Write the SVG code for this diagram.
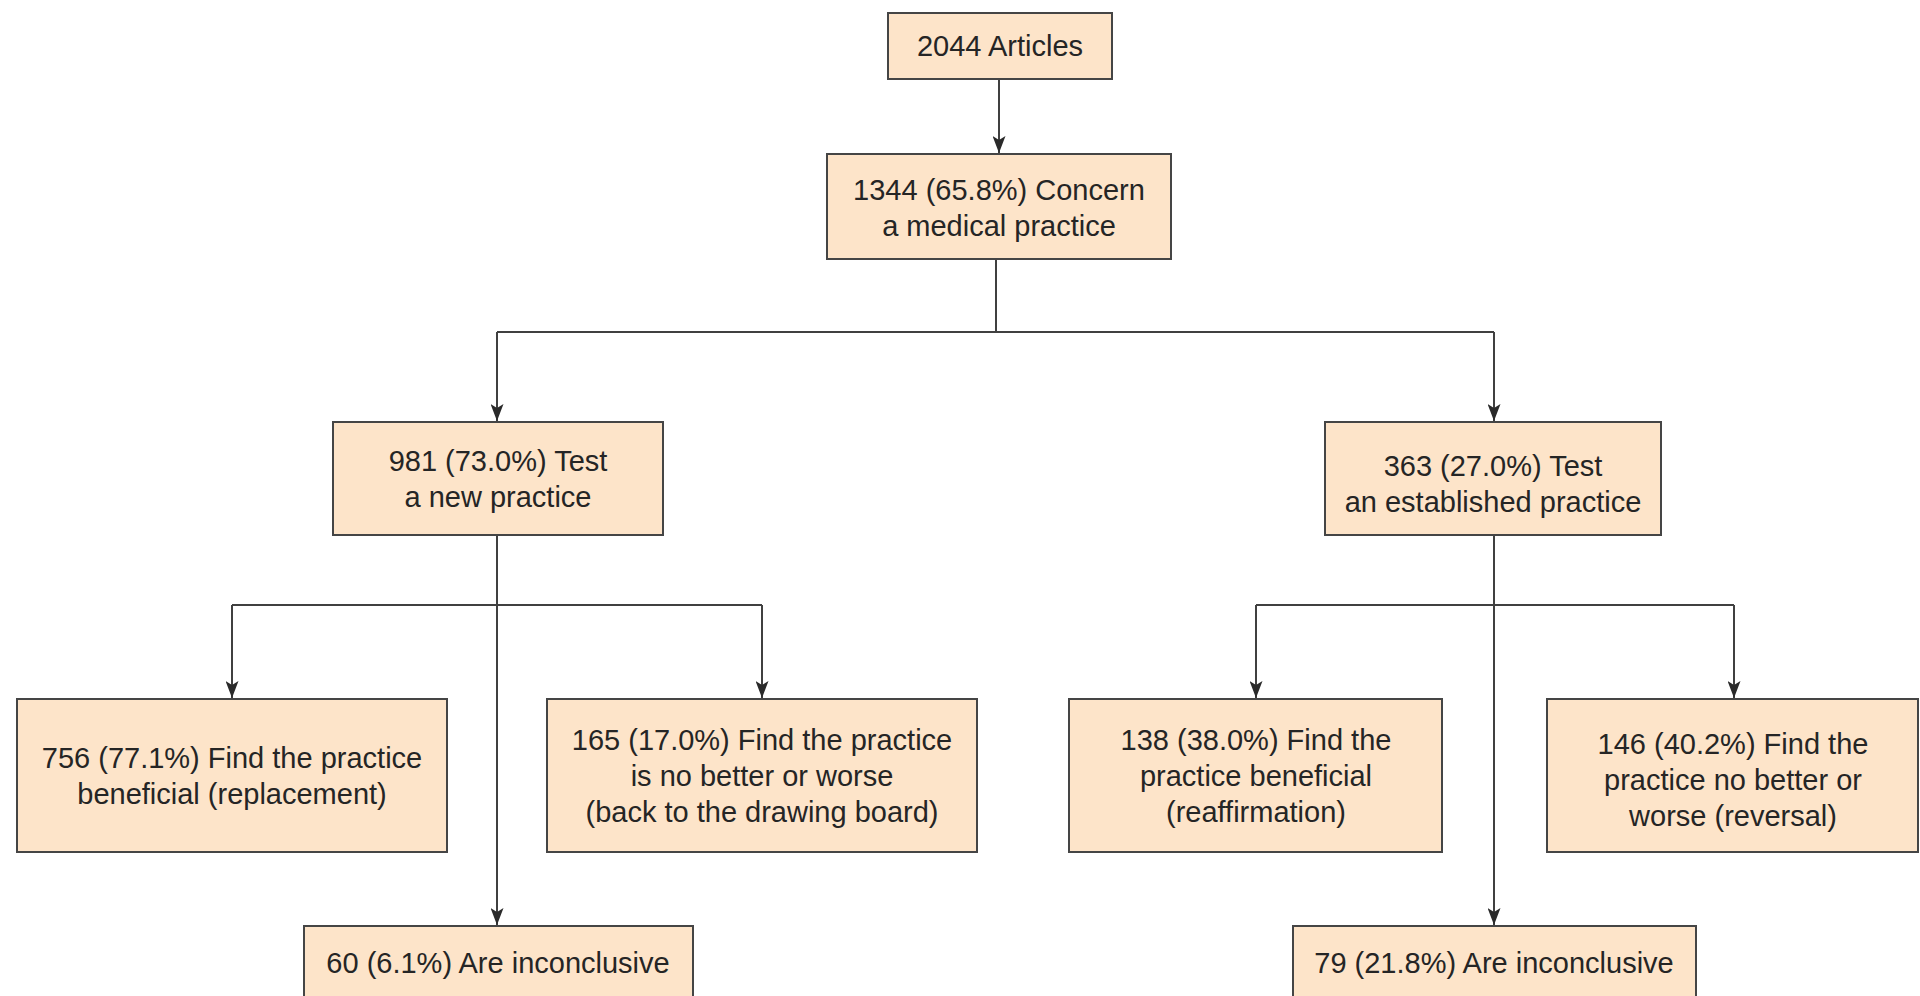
<svg xmlns="http://www.w3.org/2000/svg" width="1920" height="996" viewBox="0 0 1920 996">
<style>
.box{fill:#FDE4C9;stroke:#454545;stroke-width:2}
.t{font-family:"Liberation Sans",Arial,sans-serif;font-size:29px;fill:#252525;text-anchor:middle}
.c{fill:none;stroke:#404040;stroke-width:2}
</style>
<defs>
<marker id="ah" viewBox="0 0 17 13" refX="17" refY="6.5" markerWidth="17" markerHeight="13" markerUnits="userSpaceOnUse" orient="auto">
<path d="M0,0 L17,6.5 L0,13 L4,6.5 Z" fill="#2a2a2a"/>
</marker>
</defs>
<rect width="1920" height="996" fill="#ffffff"/>

<g id="connectors">
<path class="c" d="M999,79 V153" marker-end="url(#ah)"/>
<path class="c" d="M996,259 V332"/>
<path class="c" d="M497,332 H1494"/>
<path class="c" d="M497,332 V421" marker-end="url(#ah)"/>
<path class="c" d="M1494,332 V421" marker-end="url(#ah)"/>
<path class="c" d="M497,535 V925" marker-end="url(#ah)"/>
<path class="c" d="M232,605 H762"/>
<path class="c" d="M232,605 V698" marker-end="url(#ah)"/>
<path class="c" d="M762,605 V698" marker-end="url(#ah)"/>
<path class="c" d="M1494,535 V925" marker-end="url(#ah)"/>
<path class="c" d="M1256,605 H1734"/>
<path class="c" d="M1256,605 V698" marker-end="url(#ah)"/>
<path class="c" d="M1734,605 V698" marker-end="url(#ah)"/>
</g>

<g id="n2044">
<rect class="box" x="888" y="13" width="224" height="66"/>
<text class="t" x="1000" y="56">2044 Articles</text>
</g>

<g id="n1344">
<rect class="box" x="827" y="154" width="344" height="105"/>
<text class="t" x="999" y="200">1344 (65.8%) Concern</text>
<text class="t" x="999" y="236">a medical practice</text>
</g>

<g id="n981">
<rect class="box" x="333" y="422" width="330" height="113"/>
<text class="t" x="498" y="471">981 (73.0%) Test</text>
<text class="t" x="498" y="507">a new practice</text>
</g>

<g id="n363">
<rect class="box" x="1325" y="422" width="336" height="113"/>
<text class="t" x="1493" y="476">363 (27.0%) Test</text>
<text class="t" x="1493" y="512">an established practice</text>
</g>

<g id="n756">
<rect class="box" x="17" y="699" width="430" height="153"/>
<text class="t" x="232" y="768">756 (77.1%) Find the practice</text>
<text class="t" x="232" y="804">beneficial (replacement)</text>
</g>

<g id="n165">
<rect class="box" x="547" y="699" width="430" height="153"/>
<text class="t" x="762" y="750">165 (17.0%) Find the practice</text>
<text class="t" x="762" y="786">is no better or worse</text>
<text class="t" x="762" y="822">(back to the drawing board)</text>
</g>

<g id="n138">
<rect class="box" x="1069" y="699" width="373" height="153"/>
<text class="t" x="1256" y="750">138 (38.0%) Find the</text>
<text class="t" x="1256" y="786">practice beneficial</text>
<text class="t" x="1256" y="822">(reaffirmation)</text>
</g>

<g id="n146">
<rect class="box" x="1547" y="699" width="371" height="153"/>
<text class="t" x="1733" y="754">146 (40.2%) Find the</text>
<text class="t" x="1733" y="790">practice no better or</text>
<text class="t" x="1733" y="826">worse (reversal)</text>
</g>

<g id="n60">
<rect class="box" x="304" y="926" width="389" height="90"/>
<text class="t" x="498" y="973">60 (6.1%) Are inconclusive</text>
</g>

<g id="n79">
<rect class="box" x="1293" y="926" width="403" height="90"/>
<text class="t" x="1494" y="973">79 (21.8%) Are inconclusive</text>
</g>
</svg>
